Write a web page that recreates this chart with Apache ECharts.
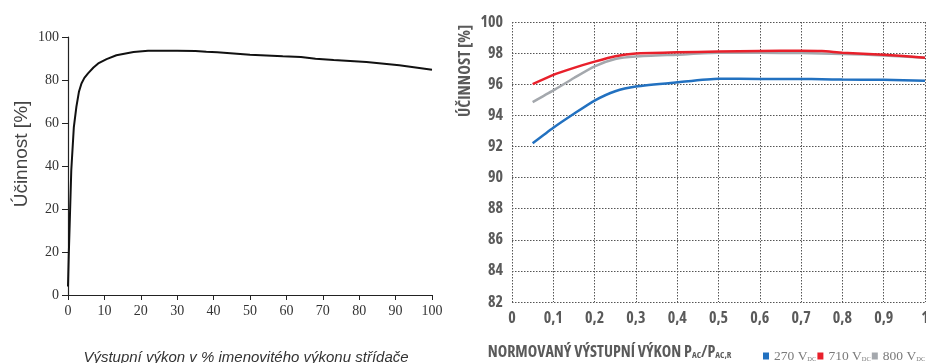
<!DOCTYPE html>
<html>
<head>
<meta charset="utf-8">
<script src="https://cdn.jsdelivr.net/npm/echarts@6/dist/echarts.min.js"></script>
<style>
html,body{margin:0;padding:0;background:#fff;}
#c{width:926px;height:363px;}
</style>
</head>
<body>
<div id="c"></div>
<script>
// ---- Left chart data (x in % of rated power, y on axis scale -20..100) ----
const leftX = [0, 0.2, 0.5, 0.9, 1.6, 2.3, 3, 3.7, 4.5, 5.5, 7, 8.3, 10.6, 13.3, 18, 22, 30, 35, 38, 41, 50, 59, 64, 68, 73, 82, 91, 100];
const leftY = [-16, -2, 15, 38, 58, 67.5, 74.5, 78.4, 81, 83.1, 85.8, 87.7, 89.7, 91.5, 93, 93.6, 93.6, 93.5, 93.1, 92.9, 91.8, 91.0, 90.7, 89.9, 89.3, 88.4, 86.9, 84.8];
const leftYTickLabels = ['0', '20', '20', '40', '60', '80', '100'];
const leftXTickLabels = ['0','10','20','30','40','50','60','70','80','90','100'];

// ---- Right chart data ----
const rightX = [0.05, 0.1, 0.15, 0.2, 0.25, 0.3, 0.4, 0.5, 0.6, 0.7, 0.75, 0.8, 0.9, 1.0];
const v270 = [92.2, 93.2, 94.1, 94.95, 95.55, 95.85, 96.12, 96.35, 96.34, 96.34, 96.32, 96.3, 96.28, 96.22];
const v710 = [96.0, 96.6, 97.05, 97.45, 97.8, 97.98, 98.05, 98.1, 98.14, 98.15, 98.13, 98.03, 97.9, 97.7];
const v800 = [94.85, 95.6, 96.4, 97.15, 97.62, 97.78, 97.9, 98.02, 98.02, 98.0, 97.98, 97.95, 97.85, 97.7];
const rightXTickLabels = ['0','0,1','0,2','0,3','0,4','0,5','0,6','0,7','0,8','0,9','1'];
const seriesNames = ['270 VDC', '710 VDC', '800 VDC'];

const pairs = (xs, ys) => xs.map((x, i) => [x, ys[i]]);

const condFont = "'Open Sans', 'DejaVu Sans Condensed', sans-serif";
const condWeight = 'bold condensed';
const grayTxt = '#5a5a5a';
const dotted = { color: '#555', width: 1, type: [1.5, 1.5] };

const chart = echarts.init(document.getElementById('c'), null, { renderer: 'canvas' });
chart.setOption({
  animation: false,
  backgroundColor: '#fff',
  grid: [
    { left: 68, right: 494, top: 37, bottom: 68, outerBoundsMode: 'none', containLabel: false },
    { left: 512, right: 1, top: 22, bottom: 61, outerBoundsMode: 'none', containLabel: false }
  ],
  legend: {
    data: seriesNames,
    left: 758, top: 344, width: 400,
    icon: 'rect', itemWidth: 6, itemHeight: 7, itemGap: 1,
    formatter: n => n.replace('VDC', 'V{s|DC}'),
    textStyle: {
      fontFamily: "'Liberation Serif', 'DejaVu Serif', serif",
      fontSize: 13.5, color: '#7a7a7a',
      rich: { s: { fontSize: 6.5, fontFamily: "'Liberation Serif', serif", color: '#7a7a7a', verticalAlign: 'bottom', padding: [5, 0, 0, 0] } }
    }
  },
  xAxis: [
    {
      gridIndex: 0, type: 'value', min: 0, max: 100, interval: 10,
      name: 'Výstupní výkon v % imenovitého výkonu střídače',
      nameLocation: 'middle', nameGap: 55, nameMoveOverlap: false,
      nameTextStyle: { fontFamily: "'Liberation Sans', Arial, sans-serif", fontStyle: 'italic', fontSize: 15, color: '#333', padding: [0, 8, 0, 0] },
      axisLine: { onZero: false, lineStyle: { color: '#222', width: 1.2 } },
      axisTick: { show: true, length: 5, lineStyle: { color: '#222' } },
      axisLabel: { formatter: (v, i) => leftXTickLabels[i], fontFamily: "'Liberation Serif', 'DejaVu Serif', serif", fontSize: 14, color: '#333', margin: 9 },
      splitLine: { show: false }
    },
    {
      gridIndex: 1, type: 'value', min: 0, max: 1, interval: 0.1,
      name: 'NORMOVANÝ VÝSTUPNÍ VÝKON P{s|AC}/P{s|AC,R}',
      nameLocation: 'middle', nameGap: 42, nameMoveOverlap: false,
      nameTextStyle: {
        fontFamily: condFont, fontWeight: condWeight, fontSize: 16, color: grayTxt,
        padding: [0, 218, 0, 0],
        rich: { s: { fontFamily: condFont, fontWeight: condWeight, fontSize: 9, color: grayTxt, verticalAlign: 'bottom', padding: [6, 0, 0, 0] } }
      },
      axisLine: { show: false, onZero: false },
      axisTick: { show: false },
      axisLabel: { formatter: (v, i) => rightXTickLabels[i], fontFamily: condFont, fontWeight: condWeight, fontSize: 16, color: grayTxt, margin: 8 },
      splitLine: { show: true, lineStyle: dotted }
    }
  ],
  yAxis: [
    {
      gridIndex: 0, type: 'value', min: -20, max: 100, interval: 20,
      name: 'Účinnost [%]',
      nameLocation: 'middle', nameGap: 37, nameMoveOverlap: false,
      nameTextStyle: { fontFamily: "'Liberation Sans', Arial, sans-serif", fontSize: 19, color: '#444', padding: [0, 0, 0, 24] },
      axisLine: { show: true, onZero: false, lineStyle: { color: '#222', width: 1.2 } },
      axisTick: { show: true, length: 6, lineStyle: { color: '#222' } },
      axisLabel: { formatter: (v, i) => leftYTickLabels[i], fontFamily: "'Liberation Serif', 'DejaVu Serif', serif", fontSize: 14, color: '#333', margin: 9 },
      splitLine: { show: false }
    },
    {
      gridIndex: 1, type: 'value', min: 82, max: 100, interval: 2,
      name: 'ÚČINNOST [%]',
      nameLocation: 'middle', nameGap: 38, nameMoveOverlap: false,
      nameTextStyle: { fontFamily: condFont, fontWeight: condWeight, fontSize: 16.5, color: grayTxt, padding: [0, 0, 0, 182] },
      axisLine: { show: false, onZero: false },
      axisTick: { show: false },
      axisLabel: { fontFamily: condFont, fontWeight: condWeight, fontSize: 16, color: grayTxt, margin: 9 },
      splitLine: { show: true, lineStyle: dotted }
    }
  ],
  series: [
    {
      type: 'line', xAxisIndex: 0, yAxisIndex: 0, data: pairs(leftX, leftY),
      showSymbol: false, smooth: false,
      lineStyle: { color: '#111', width: 2 }, itemStyle: { color: '#111' }
    },
    {
      name: seriesNames[0], type: 'line', xAxisIndex: 1, yAxisIndex: 1, data: pairs(rightX, v270),
      showSymbol: false, smooth: 0.2, color: '#2271c0', lineStyle: { width: 2.5 }
    },
    {
      name: seriesNames[2], type: 'line', xAxisIndex: 1, yAxisIndex: 1, data: pairs(rightX, v800),
      showSymbol: false, smooth: 0.2, color: '#a4a8ad', lineStyle: { width: 2.5 }
    },
    {
      name: seriesNames[1], type: 'line', xAxisIndex: 1, yAxisIndex: 1, data: pairs(rightX, v710),
      showSymbol: false, smooth: 0.2, color: '#e8202b', lineStyle: { width: 2.5 }
    }
  ]
});
</script>
</body>
</html>
